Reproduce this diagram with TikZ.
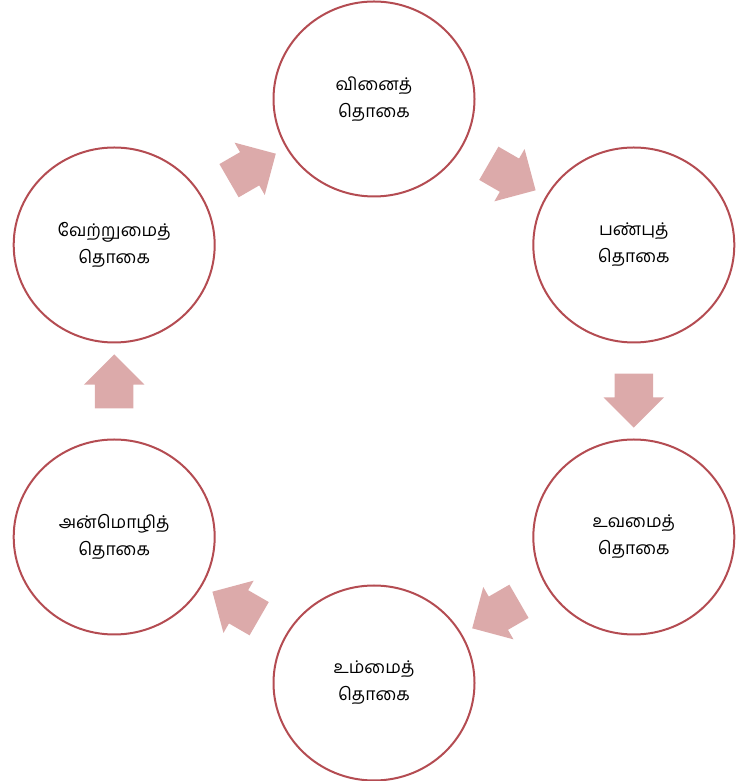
\documentclass[tikz,border=0pt]{standalone}
\usepackage{fontspec}
\newfontfamily\tamilfont[Script=Tamil]{Hind Madurai}
\usetikzlibrary{shapes.geometric,shapes.arrows,calc}
\definecolor{ringred}{RGB}{180,76,82}
\definecolor{arrowpink}{RGB}{220,170,170}

\begin{document}
\begin{tikzpicture}[x=1pt,y=1pt,
    ring/.style={ellipse, draw=ringred, line width=2pt, fill=white,
        minimum width=201pt, minimum height=195pt, inner sep=0pt, align=center,
        text=black, font=\tamilfont\fontsize{17.5}{27}\selectfont},
    blockarrow/.style={single arrow, fill=arrowpink, draw=none,
        minimum height=54pt, minimum width=0pt, inner xsep=0pt, inner ysep=19pt,
        single arrow head extend=11pt}]
    \useasboundingbox (0,0) rectangle (738,781);
    \coordinate (O) at (374,390);

    % six circles, clockwise from the top
    \foreach \a/\t [count=\i] in {90/{வினைத்\\தொகை}, 30/{பண்புத்\\தொகை},
        -30/{உவமைத்\\தொகை}, -90/{உம்மைத்\\தொகை},
        -150/{அன்மொழித்\\தொகை}, 150/{வேற்றுமைத்\\தொகை}} {
        \node[ring] (c\i) at ($(O)+(\a:300 and 292)$) {\t};
    }

    % block arrows between neighbours
    \foreach \i/\j/\r in {1/2/-30, 2/3/-90, 3/4/-150, 4/5/150, 5/6/90, 6/1/30} {
        \node[blockarrow, rotate=\r] (a\i) at ($(c\i)!0.5!(c\j)$) {};
    }

\end{tikzpicture}
\end{document}
